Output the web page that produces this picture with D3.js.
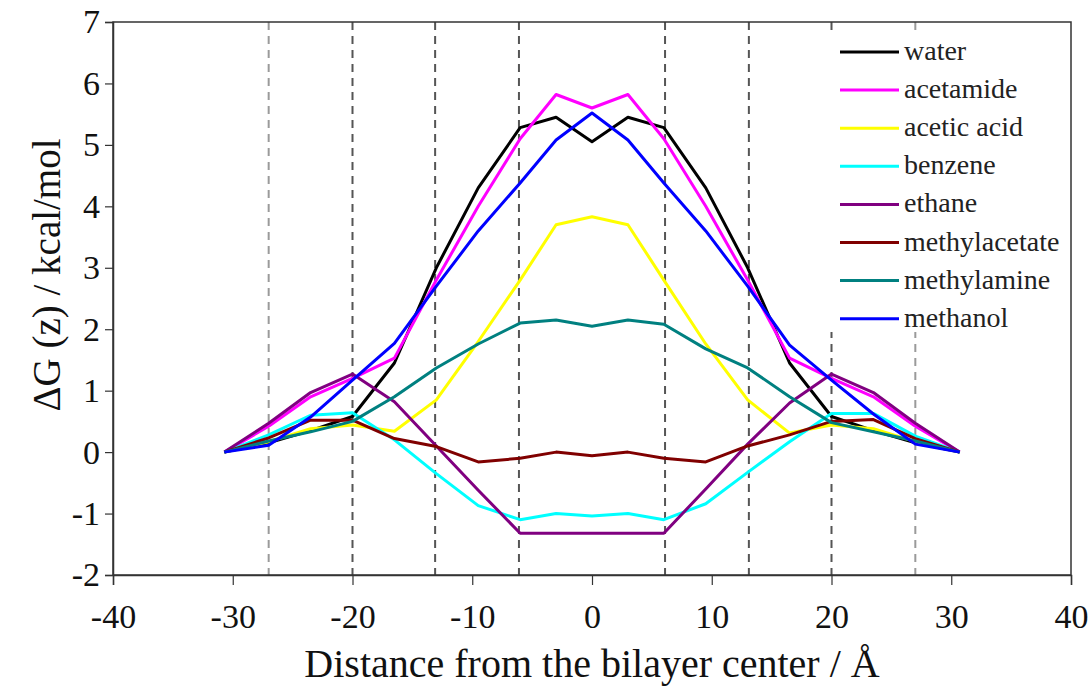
<!DOCTYPE html>
<html><head><meta charset="utf-8">
<script src="https://cdn.jsdelivr.net/npm/d3@7"></script>
<style>body{margin:0;background:#fff}svg{display:block}
text{font-family:"Liberation Serif","Times New Roman",Times,"DejaVu Serif",serif;}</style>
</head><body>
<svg id="chart" width="1092" height="687"></svg>
<script>
const xValues = [-30.7, -27, -23.5, -20, -16.5, -13, -9.5, -6, -3, 0, 3, 6, 9.5, 13, 16.5, 20, 23.5, 27, 30.7];
const water        = [0, 0.15, 0.35, 0.58, 1.45, 3.0, 4.3, 5.28, 5.45, 5.05, 5.45, 5.28, 4.3, 3.0, 1.45, 0.58, 0.35, 0.15, 0];
const acetamide    = [0, 0.42, 0.9, 1.2, 1.53, 2.8, 4.0, 5.1, 5.82, 5.6, 5.82, 5.1, 4.0, 2.8, 1.53, 1.2, 0.9, 0.42, 0];
const aceticAcid   = [0, 0.17, 0.38, 0.44, 0.34, 0.85, 1.8, 2.8, 3.7, 3.83, 3.7, 2.8, 1.76, 0.85, 0.31, 0.44, 0.38, 0.17, 0];
const benzene      = [0, 0.28, 0.6, 0.64, 0.2, -0.35, -0.87, -1.1, -1.0, -1.04, -1.0, -1.1, -0.84, -0.33, 0.17, 0.63, 0.63, 0.26, 0];
const ethane       = [0, 0.47, 0.97, 1.27, 0.82, 0.1, -0.62, -1.32, -1.32, -1.32, -1.32, -1.32, -0.6, 0.13, 0.8, 1.27, 0.97, 0.47, 0];
const methylacetate= [0, 0.23, 0.52, 0.52, 0.22, 0.09, -0.16, -0.1, 0.0, -0.06, 0.0, -0.1, -0.16, 0.1, 0.28, 0.5, 0.53, 0.22, 0];
const methylamine  = [0, 0.18, 0.33, 0.5, 0.9, 1.37, 1.76, 2.1, 2.15, 2.05, 2.15, 2.08, 1.68, 1.37, 0.9, 0.48, 0.33, 0.18, 0];
const methanol     = [0, 0.11, 0.57, 1.17, 1.77, 2.7, 3.6, 4.38, 5.08, 5.52, 5.08, 4.38, 3.6, 2.7, 1.74, 1.17, 0.62, 0.13, 0];

const seriesNames  = ["water", "acetamide", "acetic acid", "benzene", "ethane", "methylacetate", "methylamine", "methanol"];
const seriesValues = [water, acetamide, aceticAcid, benzene, ethane, methylacetate, methylamine, methanol];
const seriesColors = ["#000000", "#ff00ff", "#ffff00", "#00ffff", "#800080", "#800000", "#008080", "#0000ff"];

const dashedLines = [-27, -20, -13.1, -6.1, 6.1, 13.1, 20, 27];
const xTicks = [-40, -30, -20, -10, 0, 10, 20, 30, 40];
const yTicks = [-2, -1, 0, 1, 2, 3, 4, 5, 6, 7];

const svg = d3.select("#chart");
const L = 113, R = 1071, T = 22, B = 575;
const x = d3.scaleLinear().domain([-40, 40]).range([L, R]);
const y = d3.scaleLinear().domain([-2, 7]).range([B, T]);
const font = '"Liberation Serif","Times New Roman",Times,"DejaVu Serif",serif';

// dashed reference lines
svg.append("g").selectAll("line").data(dashedLines).join("line")
  .attr("x1", d => x(d)).attr("x2", d => x(d))
  .attr("y1", T).attr("y2", B)
  .attr("stroke", d => Math.abs(d) > 25 ? "#9a9a9a" : "#555")
  .attr("stroke-width", 2)
  .attr("stroke-dasharray", "8,6");

// legend background (covers dashed lines)
svg.append("rect").attr("x", 828).attr("y", 30).attr("width", 240).attr("height", 302).attr("fill", "#fff");

// curves
const line = d3.line().x((d, i) => x(xValues[i])).y(d => y(d));
svg.append("g").selectAll("path").data(seriesValues).join("path")
  .attr("d", d => line(d))
  .attr("fill", "none")
  .attr("stroke", (d, i) => seriesColors[i])
  .attr("stroke-width", 3)
  .attr("stroke-linejoin", "round");

// frame
svg.append("rect").attr("x", L).attr("y", T).attr("width", R - L).attr("height", B - T)
  .attr("fill", "none").attr("stroke", "#333").attr("stroke-width", 1.5);

// axes
const xAxis = svg.append("g").attr("transform", `translate(0,${B})`)
  .call(d3.axisBottom(x).tickValues(xTicks).tickSize(10).tickPadding(19).tickFormat(d3.format("d")));
const yAxis = svg.append("g").attr("transform", `translate(${L},0)`)
  .call(d3.axisLeft(y).tickValues(yTicks).tickSize(8).tickPadding(5).tickFormat(d3.format("d")));
[xAxis, yAxis].forEach(a => {
  a.attr("font-family", null).attr("font-size", 34);
  a.select(".domain").attr("stroke", "#333").attr("stroke-width", 1.5);
  a.selectAll(".tick line").attr("stroke", "#333").attr("stroke-width", 1.2);
  a.selectAll("text").style("font-family", font).attr("font-size", 34).attr("fill", "#111");
});
xAxis.selectAll(".tick text").text(d => d < 0 ? "-" + Math.abs(d) : d);
yAxis.selectAll(".tick text").text(d => d < 0 ? "-" + Math.abs(d) : d);

// axis titles
svg.append("text").attr("x", (L + R) / 2).attr("y", 677).attr("text-anchor", "middle")
  .style("font-family", font).attr("font-size", 40).attr("fill", "#111")
  .text("Distance from the bilayer center / Å");
svg.append("text").attr("transform", "translate(60,275) rotate(-90)").attr("text-anchor", "middle")
  .style("font-family", font).attr("font-size", 39).attr("fill", "#111")
  .text("ΔG (z) / kcal/mol");

// legend
const lg = svg.append("g");
const rows = lg.selectAll("g").data(seriesNames).join("g")
  .attr("transform", (d, i) => `translate(840,${52 + i * 38.1})`);
rows.append("line").attr("x1", 0).attr("x2", 59).attr("y1", 0).attr("y2", 0)
  .attr("stroke", (d, i) => seriesColors[i]).attr("stroke-width", 3);
rows.append("text").attr("x", 64).attr("y", 8).style("font-family", font).attr("font-size", 28)
  .attr("fill", "#222").text(d => d);
</script>
</body></html>
